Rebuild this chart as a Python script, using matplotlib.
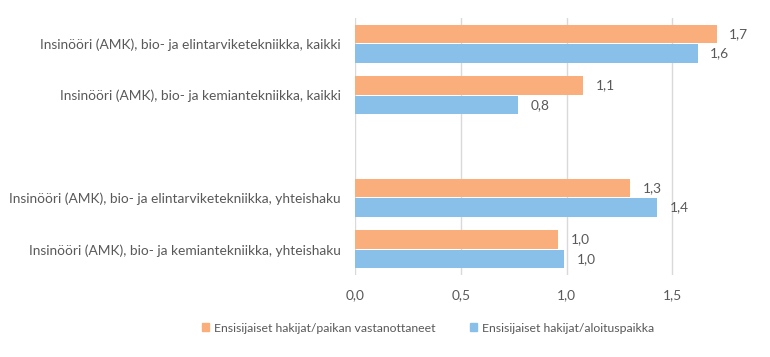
import matplotlib
matplotlib.use("Agg")
import matplotlib.pyplot as plt
from matplotlib.patches import Patch

plt.rcParams['font.family'] = ['Lato', 'DejaVu Sans']

categories = [
    "Insinööri (AMK), bio- ja elintarviketekniikka, kaikki",
    "Insinööri (AMK), bio- ja kemiantekniikka, kaikki",
    "Insinööri (AMK), bio- ja elintarviketekniikka, yhteishaku",
    "Insinööri (AMK), bio- ja kemiantekniikka, yhteishaku",
]
series_names = [
    "Ensisijaiset hakijat/paikan vastanottaneet",
    "Ensisijaiset hakijat/aloituspaikka",
]
vastanottaneet = [1.71, 1.08, 1.30, 0.96]
aloituspaikka = [1.62, 0.77, 1.43, 0.99]
xticks = [0.0, 0.5, 1.0, 1.5]
xtick_labels = ["0,0", "0,5", "1,0", "1,5"]

positions = [0, 1, 3, 4]
col_o = "#F9AE7C"
col_b = "#89C0E9"
txt = "#595959"
fs = 9.9

fig = plt.figure(figsize=(7.70, 3.57), dpi=100)
ax = fig.add_axes([355/770, 1 - 275/357, 1 - 355/770, (275 - 18)/357])

h = 0.356
off = 0.188
b1 = ax.barh([p - off for p in positions], vastanottaneet, height=h, color=col_o, zorder=3)
b2 = ax.barh([p + off for p in positions], aloituspaikka, height=h, color=col_b, zorder=3)
fmt = lambda v: f"{v:.1f}".replace(".", ",")
ax.bar_label(b1, labels=[fmt(v) for v in vastanottaneet], padding=9, color=txt, fontsize=fs)
ax.bar_label(b2, labels=[fmt(v) for v in aloituspaikka], padding=9, color=txt, fontsize=fs)

ax.set_ylim(4.5, -0.5)
ax.set_xlim(0, (770 - 355) / 211.5)
ax.set_yticks(positions)
ax.set_yticklabels(categories, color=txt, fontsize=fs)
ax.set_xticks(xticks)
ax.set_xticklabels(xtick_labels, color=txt, fontsize=fs)
ax.tick_params(axis='y', length=0, pad=10)
ax.tick_params(axis='x', length=0, pad=10)
ax.grid(axis='x', color="#D9D9D9", linewidth=1, zorder=0)
for s in ax.spines.values():
    s.set_visible(False)

handles = [Patch(color=col_o), Patch(color=col_b)]
fig.legend(handles, series_names, loc='center', bbox_to_anchor=(428/770, 1 - 328/357),
           ncol=2, frameon=False, fontsize=8.8, labelcolor=txt, handlelength=0.6,
           handleheight=0.6, handletextpad=0.4, columnspacing=2.8)

fig.savefig("out.png", dpi=100)
